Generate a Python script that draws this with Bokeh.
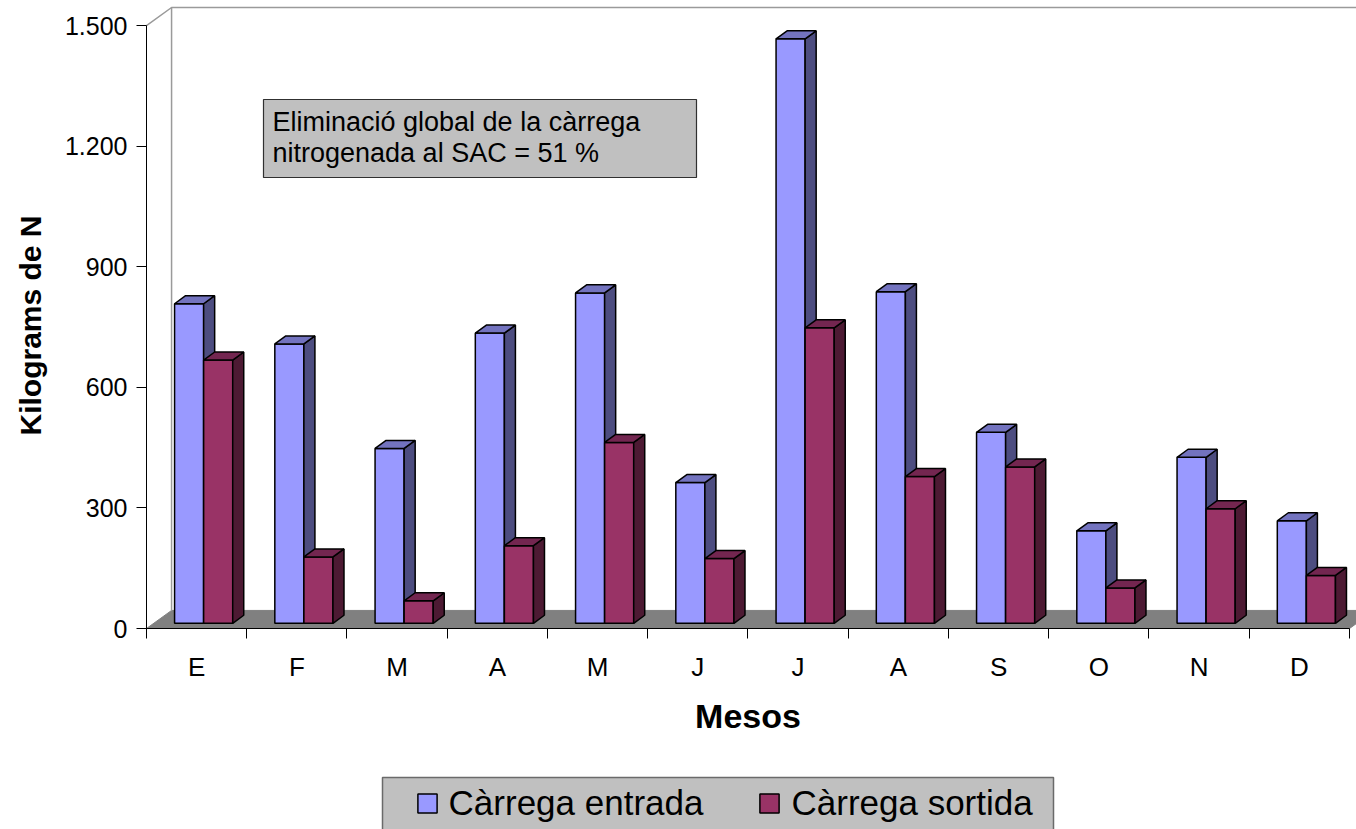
from bokeh.plotting import figure
from bokeh.models import Range1d, FixedTicker, Legend, LegendItem, BoxAnnotation, Label
from bokeh.embed import file_html
from bokeh.resources import INLINE
import math

# ---- data ----
months = ["E", "F", "M", "A", "M", "J", "J", "A", "S", "O", "N", "D"]
entrada = [795, 695, 435, 722, 822, 350, 1454, 825, 475, 230, 413, 255]
sortida = [655, 165, 56, 193, 450, 161, 735, 365, 389, 88, 285, 119]
series_names = ["Càrrega entrada", "Càrrega sortida"]
y_ticks = [0, 300, 600, 900, 1200, 1500]
y_tick_labels = ["0", "300", "600", "900", "1.200", "1.500"]
note_text = "Eliminació global de la càrrega\nnitrogenada al SAC = 51 %"
x_title = "Mesos"
y_title = "Kilograms de N"

# ---- styling / geometry ----
FONT = "Liberation Sans"
n = len(months)
Y_MAX = 1500
X_START, X_END = -1.4564, 12.07
Y_START, Y_END = -500, 1550
WALL_DX, WALL_DY = 0.25, 45     # depth of floor / walls
BAR_DX, BAR_DY = 0.11, 20       # depth of each bar
BASE = 13                        # bars stand in the middle of the floor
OFF, BW = 0.28, 0.29

colors = {
    0: dict(front="#9999FF", side="#4D4D80", top="#7373BF"),
    1: dict(front="#993366", side="#4D1A33", top="#732650"),
}

p = figure(width=1356, height=829, output_backend="svg", toolbar_location=None,
           x_range=Range1d(X_START, X_END), y_range=Range1d(Y_START, Y_END),
           min_border_left=0, min_border_right=0, min_border_top=5,
           min_border_bottom=0)
p.background_fill_color = "white"
p.border_fill_color = "white"
p.outline_line_color = None
p.grid.visible = False

# floor
p.patch([0, n, n + WALL_DX, WALL_DX], [0, 0, WALL_DY, WALL_DY],
        fill_color="#808080", line_color="#808080", line_width=1)
# walls outline
wall_gray = "#9A9A9A"
p.line([WALL_DX, WALL_DX], [WALL_DY, Y_MAX + WALL_DY], line_color=wall_gray, line_width=1.5)
p.line([0, WALL_DX, X_END + 1], [Y_MAX, Y_MAX + WALL_DY, Y_MAX + WALL_DY],
       line_color=wall_gray, line_width=1.5)

front_renderers = []
for s, vals in enumerate([entrada, sortida]):
    lefts = [i + OFF + s * BW for i in range(n)]
    rights = [l + BW for l in lefts]
    tops = [BASE + v for v in vals]
    c = colors[s]
    r = p.quad(left=lefts, right=rights, bottom=BASE, top=tops,
               fill_color=c["front"], line_color="black", line_width=1.5)
    front_renderers.append(r)
    side_xs = [[r_, r_ + BAR_DX, r_ + BAR_DX, r_] for r_ in rights]
    side_ys = [[BASE, BASE + BAR_DY, t + BAR_DY, t] for t in tops]
    p.patches(side_xs, side_ys, fill_color=c["side"], line_color="black", line_width=1.5)
    top_xs = [[l, l + BAR_DX, r_ + BAR_DX, r_] for l, r_ in zip(lefts, rights)]
    top_ys = [[t, t + BAR_DY, t + BAR_DY, t] for t in tops]
    p.patches(top_xs, top_ys, fill_color=c["top"], line_color="black", line_width=1.5)

# y axis, drawn at category position 0 inside the frame
ya = p.yaxis[0]
ya.fixed_location = 0
ya.ticker = FixedTicker(ticks=y_ticks)
ya.major_label_overrides = {t: l for t, l in zip(y_ticks, y_tick_labels)}
ya.bounds = (0, Y_MAX)
ya.major_tick_out = 10
ya.major_tick_in = 0
ya.minor_tick_out = 0
ya.axis_line_color = "black"
ya.major_tick_line_color = "black"
ya.major_label_text_font = FONT
ya.major_label_text_font_size = "25px"
ya.major_label_text_color = "black"
ya.major_label_standoff = 9

# y axis title
p.add_layout(Label(x=30, y=504, x_units="screen", y_units="screen", text=y_title,
                   angle=math.pi / 2, text_align="center", text_baseline="middle",
                   text_font=FONT, text_font_style="bold", text_font_size="30px",
                   text_color="black"))

# x axis, drawn at value 0 inside the frame
xa = p.xaxis[0]
xa.fixed_location = 0
xa.ticker = FixedTicker(ticks=[i + 0.5 for i in range(n)], minor_ticks=list(range(n + 1)))
xa.major_label_overrides = {i + 0.5: m for i, m in enumerate(months)}
xa.bounds = (0, n)
xa.major_tick_out = 0
xa.major_tick_in = 0
xa.minor_tick_out = 10
xa.minor_tick_in = 0
xa.minor_tick_line_color = "black"
xa.axis_line_color = "black"
xa.major_label_text_font = FONT
xa.major_label_text_font_size = "26px"
xa.major_label_text_color = "black"
xa.major_label_standoff = 13
xa.axis_label = x_title
xa.axis_label_text_font = FONT
xa.axis_label_text_font_style = "bold"
xa.axis_label_text_font_size = "34px"
xa.axis_label_text_color = "black"
xa.axis_label_standoff = 12

# annotation box (canvas px) and its text
note_box = BoxAnnotation(left=263, right=696, top=99, bottom=177,
                         left_units="canvas", right_units="canvas",
                         top_units="canvas", bottom_units="canvas",
                         fill_color="#C0C0C0", fill_alpha=1,
                         line_color="#303030", line_width=1.2, line_alpha=1)
p.add_layout(note_box)
p.add_layout(Label(x=272, y=723, x_units="screen", y_units="screen", text=note_text,
                   text_font=FONT, text_font_size="27px", text_color="black",
                   text_align="left", text_baseline="top", text_line_height=1.06))

# legend box + legend
legend_box = BoxAnnotation(left=382, right=1053, top=777, bottom=840,
                           left_units="canvas", right_units="canvas",
                           top_units="canvas", bottom_units="canvas",
                           fill_color="#C0C0C0", fill_alpha=1,
                           line_color="#6A6A6A", line_width=1.5, line_alpha=1)
p.add_layout(legend_box)
legend = Legend(items=[LegendItem(label=series_names[i], renderers=[front_renderers[i]])
                       for i in range(2)],
                location=(414.6, 6), orientation="horizontal",
                background_fill_alpha=0, border_line_alpha=0,
                label_text_font=FONT, label_text_font_size="35px",
                label_text_color="black",
                glyph_width=24, glyph_height=24, label_standoff=10,
                spacing=54, padding=0, margin=0)
p.add_layout(legend)

open("out.html", "w").write(file_html(p, INLINE))
